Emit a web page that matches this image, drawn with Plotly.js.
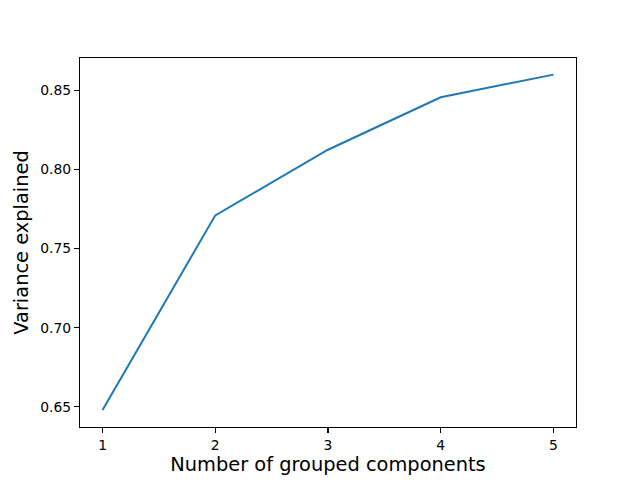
<!DOCTYPE html>
<html><head><meta charset="utf-8">
<script src="https://cdn.plot.ly/plotly-3.0.1.min.js"></script>
<style>html,body{margin:0;padding:0;background:#fff}</style>
</head><body><div id="chart" style="width:640px;height:480px"></div>
<script>
const components = [1, 2, 3, 4, 5];
const variance = [0.648, 0.771, 0.8125, 0.8457, 0.8600];
const yTicks = [0.65, 0.70, 0.75, 0.80, 0.85];
const yTickLabels = ['0.65', '0.70', '0.75', '0.80', '0.85'];

Plotly.newPlot('chart', [{
  x: components, y: variance, type: 'scatter', mode: 'lines',
  line: {color: '#1f77b4', width: 2}
}], {
  width: 640, height: 480,
  margin: {l: 80, r: 64, t: 58, b: 53},
  paper_bgcolor: '#fff', plot_bgcolor: '#fff',
  font: {family: 'DejaVu Sans', size: 13.9, color: '#000'},
  showlegend: false,
  xaxis: {
    range: [0.8, 5.2], tickvals: components, ticktext: components.map(String),
    tickfont: {size: 13.9},
    ticks: 'outside', ticklen: 4.9, tickwidth: 1.1, tickcolor: '#000', showgrid: false, zeroline: false,
    showline: true, linecolor: '#000', linewidth: 1.1, mirror: true,
    title: {text: 'Number of grouped components', font: {size: 19.4}, standoff: 4}
  },
  yaxis: {
    range: [0.6372, 0.8705], tickvals: yTicks, ticktext: yTickLabels,
    tickfont: {size: 13.9},
    ticks: 'outside', ticklen: 4.9, tickwidth: 1.1, tickcolor: '#000', showgrid: false, zeroline: false,
    showline: true, linecolor: '#000', linewidth: 1.1, mirror: true,
    title: {text: 'Variance explained', font: {size: 19.4}, standoff: 6}
  }
}, {staticPlot: true});
</script></body></html>
